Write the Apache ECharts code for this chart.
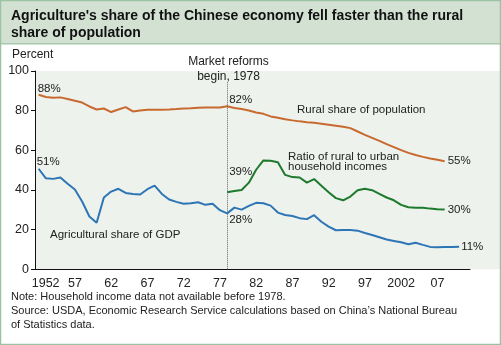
<!DOCTYPE html>
<html><head><meta charset="utf-8">
<script src="https://cdn.jsdelivr.net/npm/echarts@6/dist/echarts.min.js"></script>
<style>html,body{margin:0;padding:0;background:#fff}#c{width:501px;height:345px}</style>
</head><body><div id="c"></div>
<script>
const years = [];
for (let y = 1952; y <= 2011; y++) years.push(String(y));
// 1952-2008
const ruralPop = [88,86.9,86.5,86.7,85.9,85.0,84.1,82.1,80.6,81.1,79.3,80.6,81.8,79.6,80.1,80.5,80.5,80.5,80.6,80.8,81.1,81.2,81.5,81.6,81.6,81.6,82.2,81.3,80.8,80.1,79.1,78.4,77.1,76.4,75.7,75.1,74.6,74.2,73.9,73.4,72.9,72.4,71.9,71.2,69.5,67.8,66.3,64.8,63.1,61.6,60.1,58.7,57.6,56.7,55.9,55.2,54.5];
// 1952-2010
const agriGdp = [50.7,45.9,45.6,46.3,43.1,40.2,34.2,26.6,23.5,36.2,39.2,40.6,38.5,38.0,37.7,40.4,42.2,38.0,35.2,34.0,33.1,33.3,33.8,32.5,33.0,29.8,28.2,31.1,30.1,32.0,33.5,33.3,32.1,28.6,27.4,26.9,25.8,25.3,27.3,24.0,21.5,19.7,19.8,19.8,19.5,18.3,17.3,16.2,15.0,14.3,13.6,12.6,13.4,12.3,11.3,11.1,11.3,11.3,11.4];
// 1978-2008
const incomeRatio = [38.9,39.5,40.0,43.7,50.2,54.9,54.7,54.0,47.6,46.5,46.3,43.7,45.5,42.1,38.9,35.9,34.8,36.7,39.9,40.6,39.9,38.0,36.2,34.8,32.5,31.3,31.1,31.0,30.6,30.3,30.1];
const yTicks = [0,20,40,60,80,100];

const C_OR = '#c8692f', C_BL = '#2e75b6', C_GR = '#1d7a2c', TXT = '#222';
const FONT = 'Liberation Sans, Arial, sans-serif';

function withLabels(vals, offsetYears, labels) {
  const arr = years.map(() => null);
  vals.forEach((v, i) => { arr[i + offsetYears] = v; });
  return arr.map((v, i) => {
    const l = labels[years[i]];
    if (v == null) return '-';
    if (!l) return v;
    return { value: v, label: { show: true, formatter: l.t, position: [l.dx, l.dy], align: 'left', verticalAlign: 'middle', color: TXT, fontSize: 11.5, fontFamily: FONT } };
  });
}

const chart = echarts.init(document.getElementById('c'), null, { renderer: 'canvas' });
const opt = {
  animation: false,
  backgroundColor: '#fff',
  grid: { left: 35, right: 31, top: 71, bottom: 75.7, show: false },
  xAxis: {
    type: 'category', data: years, boundaryGap: true,
    axisLine: { lineStyle: { color: '#111', width: 1 } },
    axisTick: { alignWithLabel: true, length: 4, interval: (i, v) => v !== '2011', lineStyle: { color: '#777' } },
    axisLabel: {
      interval: 4, margin: 8, fontSize: 12.5, color: TXT, fontFamily: FONT,
      formatter: v => (v === '1952' ? '{f|1952}' : (v === '2002' ? '2002' : v.slice(2))),
      rich: { f: { fontSize: 12.5, color: TXT, fontFamily: FONT, padding: [0, 0, 0, 14] } }
    },
    splitLine: { show: false }
  },
  yAxis: {
    type: 'value', min: 0, max: 100, interval: 20,
    axisLine: { show: true, lineStyle: { color: '#111', width: 1 } },
    axisTick: { show: true, length: 4, lineStyle: { color: '#111' } },
    axisLabel: { margin: 6, fontSize: 12.5, color: TXT, fontFamily: FONT },
    splitLine: { show: false }
  },
  graphic: [
    { type: 'rect', z: -10, shape: { x: 35, y: 71, width: 465, height: 198.3 }, style: { fill: '#edf2ec' } },
    { type: 'rect', z: -10, shape: { x: 0, y: 0, width: 501, height: 43 }, style: { fill: '#d3e1d3' } },
    { type: 'rect', z: -9, shape: { x: 0, y: 43, width: 501, height: 1.5 }, style: { fill: '#a9c9ae' } },
    { type: 'rect', z: 50, shape: { x: 0.5, y: 0.5, width: 500, height: 344 }, style: { fill: null, stroke: '#9cc2a4', lineWidth: 1.5 } },
    { type: 'text', left: 11, top: 8, style: { text: "Agriculture's share of the Chinese economy fell faster than the rural\nshare of population", font: 'bold 14px ' + FONT, fill: '#111', lineHeight: 17 } },
    { type: 'text', left: 12, top: 48, style: { text: 'Percent', font: '12px ' + FONT, fill: TXT, lineHeight: 14 } },
    { type: 'text', x: 228.5, y: 54.5, style: { text: 'Market reforms\nbegin, 1978', font: '12px ' + FONT, fill: TXT, align: 'center', lineHeight: 15 } },
    { type: 'text', left: 297, top: 104, style: { text: 'Rural share of population', font: '11.5px ' + FONT, fill: TXT, lineHeight: 12 } },
    { type: 'text', left: 288, top: 150.5, style: { text: 'Ratio of rural to urban\nhousehold incomes', font: '11.5px ' + FONT, fill: TXT, lineHeight: 10.5 } },
    { type: 'text', left: 50, top: 229, style: { text: 'Agricultural share of GDP', font: '11.5px ' + FONT, fill: TXT, lineHeight: 12 } },
    { type: 'text', left: 11, top: 290.3, style: { text: 'Note: Household income data not available before 1978.\nSource: USDA, Economic Research Service calculations based on China\u2019s National Bureau\nof Statistics data.', font: '11px ' + FONT, fill: TXT, lineHeight: 14 } }
  ],
  series: [
    {
      type: 'line', name: 'Rural share of population', symbol: 'circle', symbolSize: 0, showSymbol: true,
      lineStyle: { color: C_OR, width: 2 }, itemStyle: { color: C_OR },
      data: withLabels(ruralPop, 0, { '1952': { t: '88%', dx: -1, dy: -6 }, '1978': { t: '82%', dx: 2, dy: -6 }, '2008': { t: '55%', dx: 3, dy: 0 } }),
      markLine: {
        silent: true, symbol: 'none', label: { show: false },
        lineStyle: { color: '#666', type: 'dotted', width: 1 },
        data: [[{ coord: ['1978', 0] }, { coord: ['1978', 94.5] }]]
      }
    },
    {
      type: 'line', name: 'Agricultural share of GDP', symbol: 'circle', symbolSize: 0, showSymbol: true,
      lineStyle: { color: C_BL, width: 2 }, itemStyle: { color: C_BL },
      data: withLabels(agriGdp, 0, { '1952': { t: '51%', dx: -2, dy: -7 }, '1978': { t: '28%', dx: 2, dy: 6 }, '2010': { t: '11%', dx: 2, dy: 0 } })
    },
    {
      type: 'line', name: 'Ratio of rural to urban household incomes', symbol: 'circle', symbolSize: 0, showSymbol: true,
      lineStyle: { color: C_GR, width: 2 }, itemStyle: { color: C_GR },
      data: withLabels(incomeRatio, 26, { '1978': { t: '39%', dx: 2, dy: -20 }, '2008': { t: '30%', dx: 3, dy: 0 } })
    }
  ]
};
chart.setOption(opt);
</script></body></html>
